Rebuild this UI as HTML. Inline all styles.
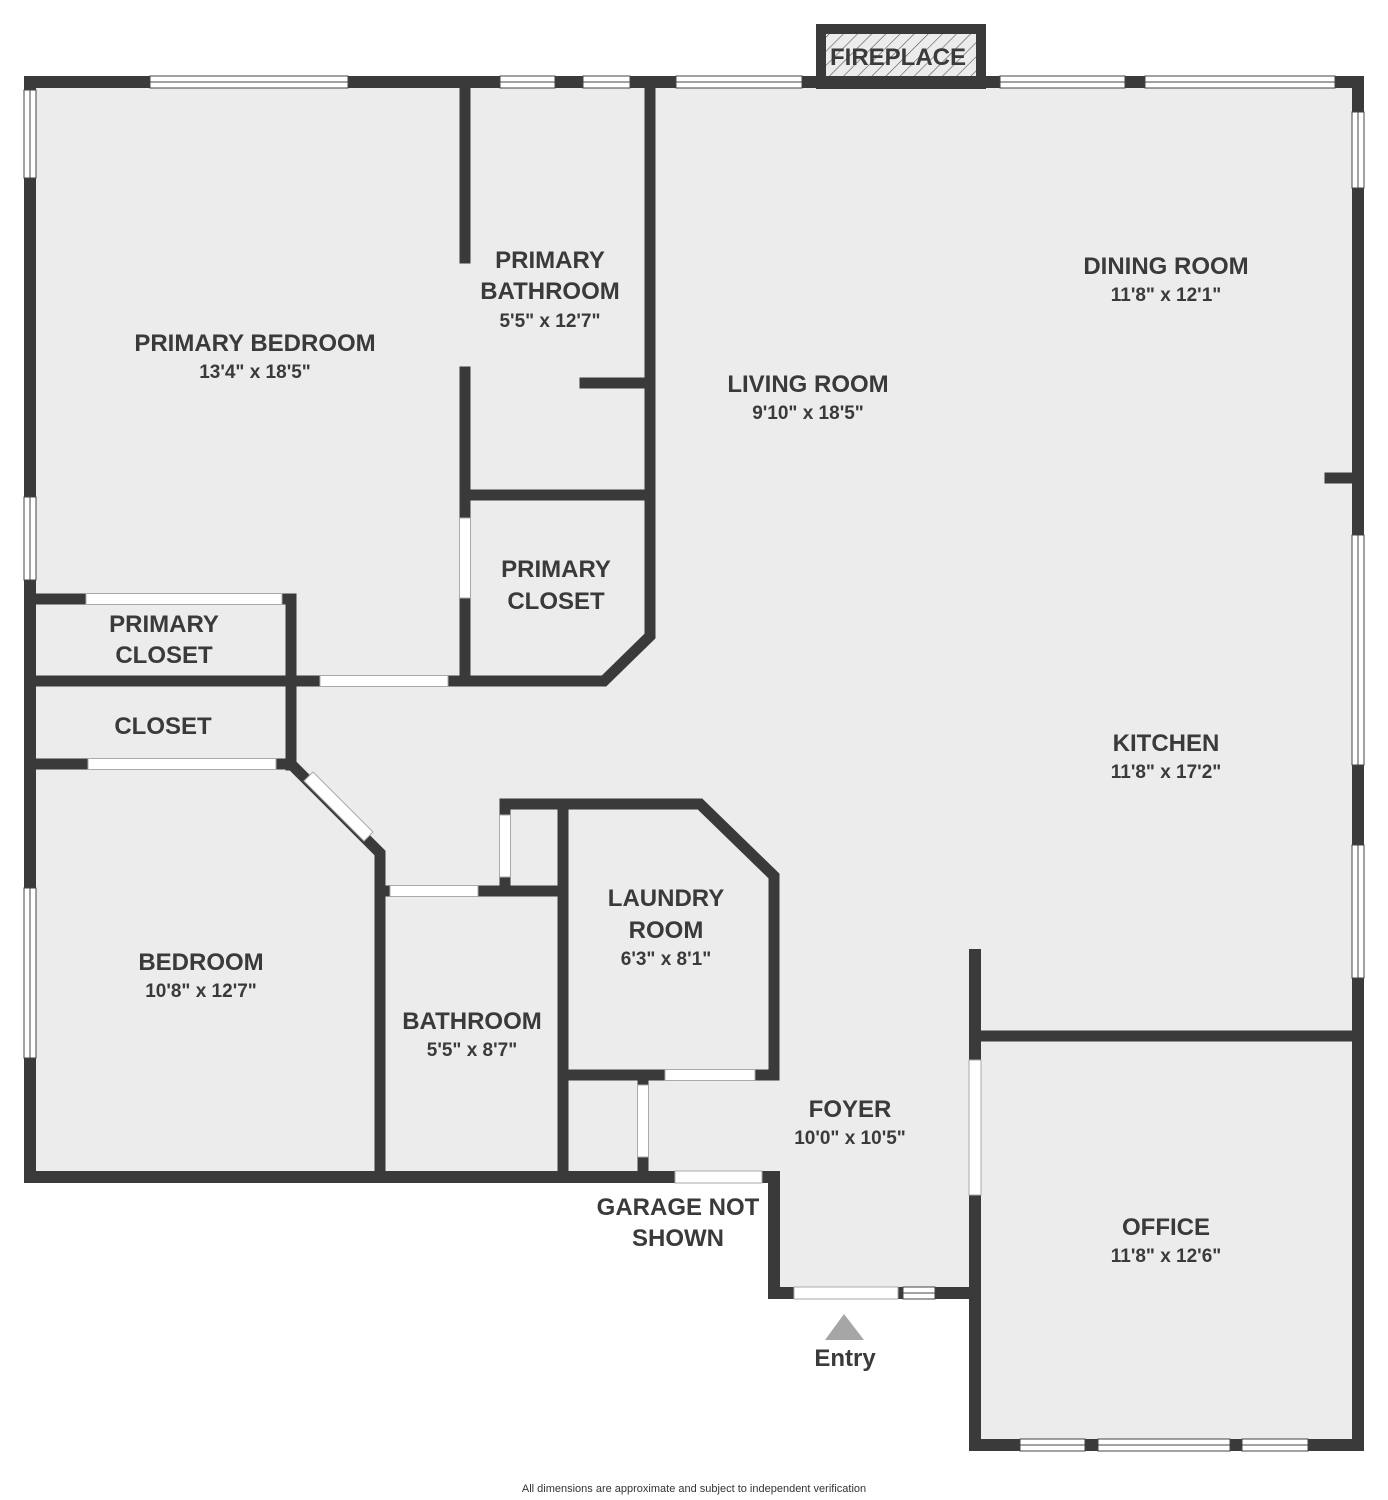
<!DOCTYPE html>
<html><head><meta charset="utf-8"><style>
html,body{margin:0;padding:0;background:#fff;}
svg{display:block;}
.t{font-family:"Liberation Sans",sans-serif;font-weight:bold;fill:#3a3a3a;text-anchor:middle;}
.n{font-size:24px;}
.d{font-size:19px;}
</style></head><body>
<svg width="1388" height="1500" viewBox="0 0 1388 1500" xmlns="http://www.w3.org/2000/svg">
<defs>
<pattern id="h" width="10" height="10" patternUnits="userSpaceOnUse" patternTransform="rotate(45)">
<rect width="10" height="10" fill="#ececec"/><line x1="0" y1="0" x2="0" y2="10" stroke="#555" stroke-width="1.2"/>
</pattern>
</defs>
<polygon points="30,82 1358,82 1358,1445 975,1445 975,1293 774,1293 774,1177 30,1177" fill="#ececec"/>
<!-- fireplace -->
<rect x="821" y="29" width="160" height="55" fill="url(#h)" stroke="#3a3a3a" stroke-width="10"/>
<g fill="none" stroke="#3a3a3a" stroke-linejoin="miter" stroke-linecap="square">
<!-- outer walls -->
<g stroke-width="12">
<polyline points="30,82 1358,82 1358,1445 975,1445"/>
<polyline points="30,82 30,1177 774,1177 774,1293 975,1293"/>
<line x1="975" y1="955" x2="975" y2="1445"/>
</g>
<g stroke-width="11">
<line x1="465" y1="88" x2="465" y2="258"/>
<polyline points="465,372 465,681 604,681 650,636 650,88"/>
<line x1="585" y1="383" x2="650" y2="383"/>
<line x1="465" y1="495" x2="650" y2="495"/>
<polyline points="36,599 291,599 291,765"/>
<line x1="36" y1="681" x2="465" y2="681"/>
<polyline points="36,764 291,764 380,853 380,1177"/>
<line x1="380" y1="891" x2="563" y2="891"/>
<polyline points="505,891 505,804 700,804 774,876 774,1075 563,1075"/>
<line x1="563" y1="804" x2="563" y2="1177"/>
<line x1="643" y1="1075" x2="643" y2="1177"/>
<line x1="975" y1="1036" x2="1358" y2="1036"/>
<line x1="1330" y1="478" x2="1358" y2="478"/>
</g>
</g>
<!-- openings (white) -->
<g fill="#fff" stroke="#aaa" stroke-width="1">
<rect x="465" y="518" width="0" height="0"/>
<rect x="459.5" y="518" width="11" height="80"/>
<rect x="86" y="593.5" width="196" height="11"/>
<rect x="320" y="675.5" width="128" height="11"/>
<rect x="88" y="758.5" width="188" height="11"/>
<rect x="390" y="885.5" width="88" height="11"/>
<rect x="499.5" y="815" width="11" height="62"/>
<rect x="665" y="1069.5" width="90" height="11"/>
<rect x="637.5" y="1085" width="11" height="72"/>
<rect x="675" y="1171" width="87" height="12"/>
<rect x="969" y="1060" width="12" height="135"/>
<rect x="794" y="1287" width="104" height="12"/>
<polygon points="304,781 313,772 373,832 364,841"/>
</g>
<!-- windows -->
<g fill="#fff" stroke="#444" stroke-width="1">
<rect x="150" y="76" width="198" height="12"/><line x1="150" y1="82" x2="348" y2="82"/>
<rect x="500" y="76" width="55" height="12"/><line x1="500" y1="82" x2="555" y2="82"/>
<rect x="583" y="76" width="47" height="12"/><line x1="583" y1="82" x2="630" y2="82"/>
<rect x="676" y="76" width="126" height="12"/><line x1="676" y1="82" x2="802" y2="82"/>
<rect x="1000" y="76" width="125" height="12"/><line x1="1000" y1="82" x2="1125" y2="82"/>
<rect x="1145" y="76" width="190" height="12"/><line x1="1145" y1="82" x2="1335" y2="82"/>
<rect x="24" y="90" width="12" height="88"/><line x1="30" y1="90" x2="30" y2="178"/>
<rect x="24" y="497" width="12" height="83"/><line x1="30" y1="497" x2="30" y2="580"/>
<rect x="24" y="888" width="12" height="170"/><line x1="30" y1="888" x2="30" y2="1058"/>
<rect x="1352" y="112" width="12" height="76"/><line x1="1358" y1="112" x2="1358" y2="188"/>
<rect x="1352" y="535" width="12" height="230"/><line x1="1358" y1="535" x2="1358" y2="765"/>
<rect x="1352" y="845" width="12" height="133"/><line x1="1358" y1="845" x2="1358" y2="978"/>
<rect x="1020" y="1439" width="65" height="12"/><line x1="1020" y1="1445" x2="1085" y2="1445"/>
<rect x="1098" y="1439" width="132" height="12"/><line x1="1098" y1="1445" x2="1230" y2="1445"/>
<rect x="1242" y="1439" width="66" height="12"/><line x1="1242" y1="1445" x2="1308" y2="1445"/>
<rect x="903" y="1287" width="32" height="12"/><line x1="903" y1="1293" x2="935" y2="1293"/>
</g>
<polygon points="844,1314 825,1340 864,1340" fill="#a6a6a6"/>
<text class="t n" x="898" y="65">FIREPLACE</text>
<text class="t n" x="255" y="351">PRIMARY BEDROOM</text><text class="t d" x="255" y="378">13'4" x 18'5"</text>
<text class="t n" x="550" y="268">PRIMARY</text><text class="t n" x="550" y="299">BATHROOM</text><text class="t d" x="550" y="327">5'5" x 12'7"</text>
<text class="t n" x="1166" y="274">DINING ROOM</text><text class="t d" x="1166" y="301">11'8" x 12'1"</text>
<text class="t n" x="808" y="392">LIVING ROOM</text><text class="t d" x="808" y="419">9'10" x 18'5"</text>
<text class="t n" x="556" y="577">PRIMARY</text><text class="t n" x="556" y="609">CLOSET</text>
<text class="t n" x="164" y="632">PRIMARY</text><text class="t n" x="164" y="663">CLOSET</text>
<text class="t n" x="163" y="734">CLOSET</text>
<text class="t n" x="1166" y="751">KITCHEN</text><text class="t d" x="1166" y="778">11'8" x 17'2"</text>
<text class="t n" x="666" y="906">LAUNDRY</text><text class="t n" x="666" y="938">ROOM</text><text class="t d" x="666" y="965">6'3" x 8'1"</text>
<text class="t n" x="201" y="970">BEDROOM</text><text class="t d" x="201" y="997">10'8" x 12'7"</text>
<text class="t n" x="472" y="1029">BATHROOM</text><text class="t d" x="472" y="1056">5'5" x 8'7"</text>
<text class="t n" x="850" y="1117">FOYER</text><text class="t d" x="850" y="1144">10'0" x 10'5"</text>
<text class="t n" x="678" y="1215">GARAGE NOT</text><text class="t n" x="678" y="1246">SHOWN</text>
<text class="t n" x="1166" y="1235">OFFICE</text><text class="t d" x="1166" y="1262">11'8" x 12'6"</text>
<text class="t n" x="845" y="1366">Entry</text>
<text x="694" y="1492" font-family="Liberation Sans,sans-serif" font-size="11" fill="#333" text-anchor="middle">All dimensions are approximate and subject to independent verification</text>
</svg>
</body></html>
